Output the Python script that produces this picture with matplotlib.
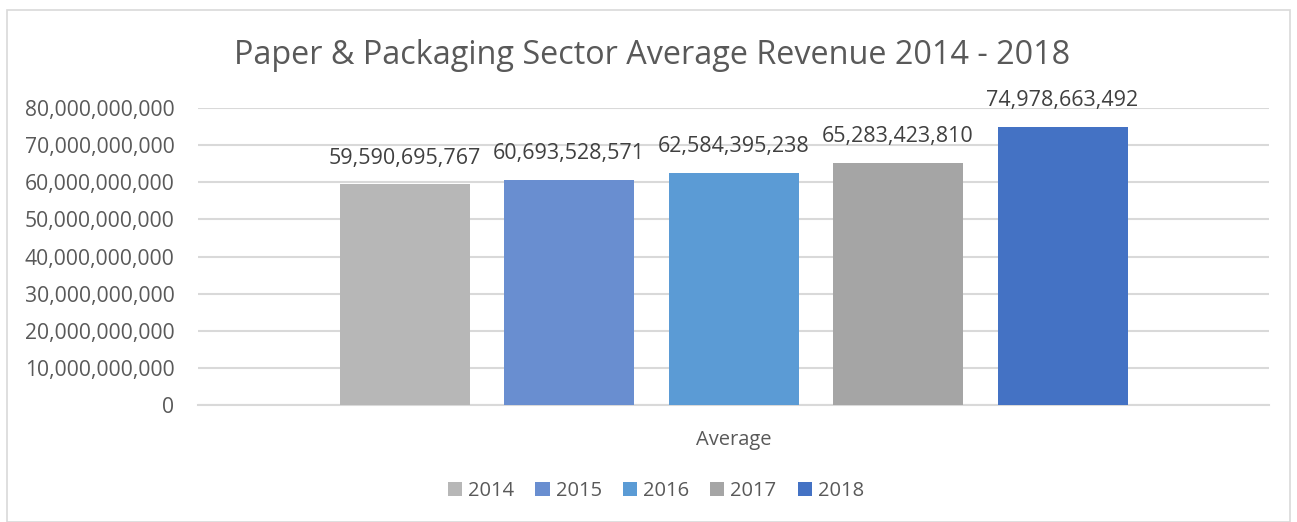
import matplotlib
matplotlib.use("Agg")
import matplotlib.pyplot as plt
from matplotlib.patches import Rectangle
from matplotlib.ticker import FuncFormatter

years = ["2014", "2015", "2016", "2017", "2018"]
values = [59590695767, 60693528571, 62584395238, 65283423810, 74978663492]
colors = ["#B7B7B7", "#698ED0", "#5B9BD5", "#A5A5A5", "#4472C4"]
category = "Average"
title = "Paper & Packaging Sector Average Revenue 2014 - 2018"

plt.rcParams["font.family"] = ["Open Sans", "DejaVu Sans"]
W, H = 1297, 522
fig = plt.figure(figsize=(W / 100, H / 100), dpi=100)
fig.patch.set_facecolor("white")

# outer chart border
fig.add_artist(Rectangle((7 / W, 0), (1290 - 7) / W, 1 - 10 / H,
                         transform=fig.transFigure, fill=False,
                         edgecolor="#D9D9D9", linewidth=1.2))

ax = fig.add_axes([198 / W, 1 - 405 / H, (1269 - 198) / W, (405 - 108) / H])
ax.set_xlim(-0.5, 0.5)
ax.set_ylim(0, 80e9)

bw = 130 / 1071
step = 164.5 / 1071
n = len(years)
for i, (y, v, c) in enumerate(zip(years, values, colors)):
    x = (i - (n - 1) / 2) * step
    ax.bar(x, v, width=bw, color=c, label=y, zorder=3)
    ax.annotate(f"{v:,}", (x, v), xytext=(0, 18.5), textcoords="offset points",
                ha="center", va="center", fontsize=15.5, color="#404040")

ax.set_yticks([i * 10e9 for i in range(9)])
ax.yaxis.set_major_formatter(FuncFormatter(lambda v, p: f"{int(round(v)):,}"))
ax.tick_params(axis="y", length=0, pad=17, labelsize=15.2, labelcolor="#595959")
ax.set_xticks([0])
ax.set_xticklabels([category])
ax.tick_params(axis="x", length=0, pad=18, labelsize=14.5, labelcolor="#595959")
ax.grid(axis="y", color="#D9D9D9", linewidth=1.5, zorder=0)
for s in ["left", "right", "top"]:
    ax.spines[s].set_visible(False)
ax.spines["bottom"].set_color("#D9D9D9")
ax.spines["bottom"].set_linewidth(1.5)

fig.text(652 / W, 1 - 56 / H, title, ha="center", va="center",
         fontsize=23.3, color="#595959")

leg = fig.legend(loc="center", bbox_to_anchor=(656 / W, 1 - 491 / H), ncol=5,
                 frameon=False, fontsize=14.5, handlelength=0.7, handleheight=0.7,
                 handletextpad=0.3, columnspacing=1.05)
for t in leg.get_texts():
    t.set_color("#595959")

fig.savefig("out.png", dpi=100, facecolor="white")
